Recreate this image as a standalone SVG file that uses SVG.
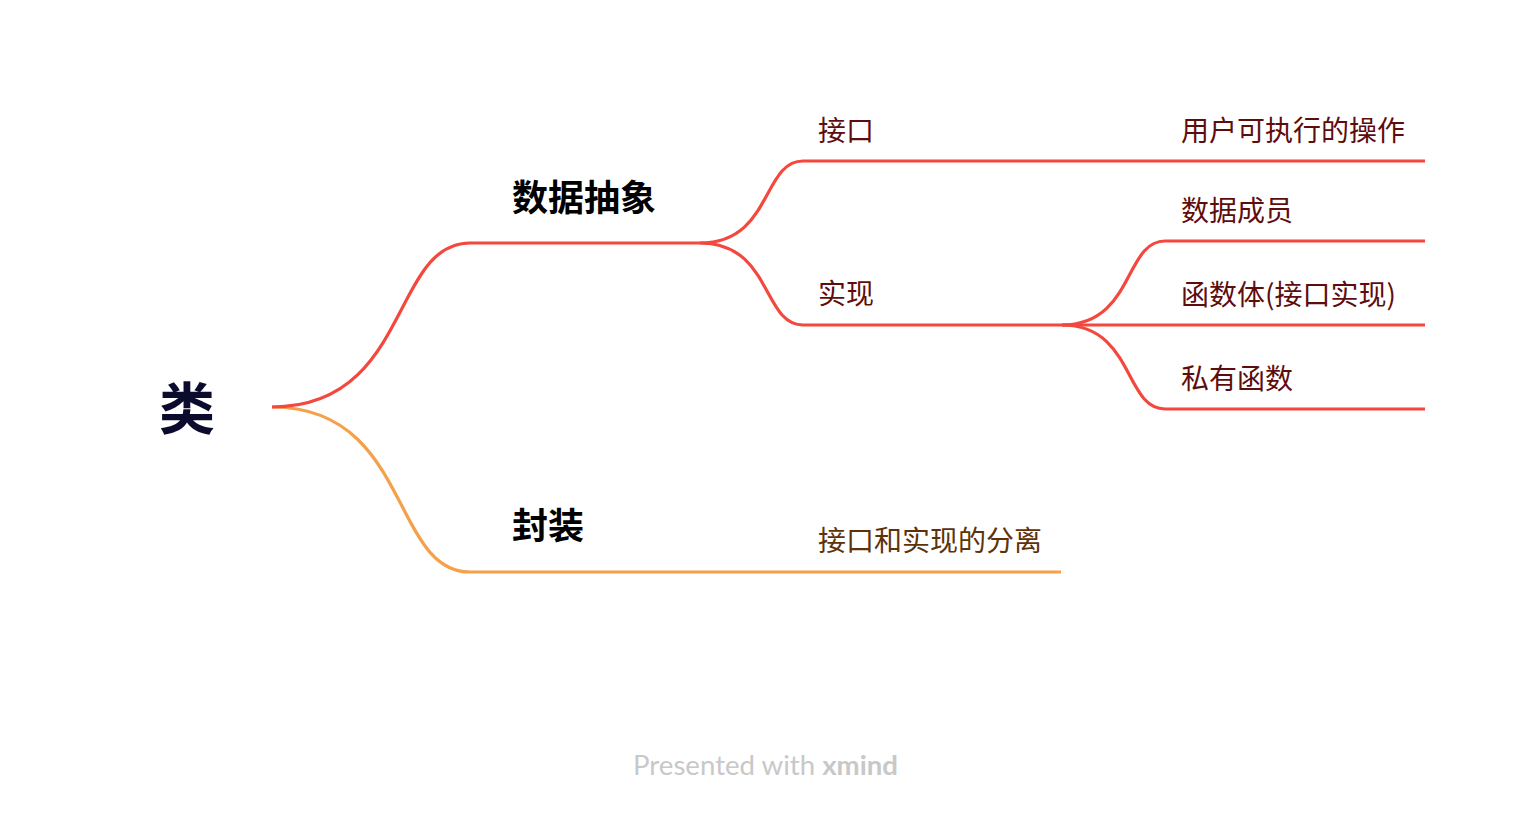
<svg xmlns="http://www.w3.org/2000/svg" width="1526" height="814" viewBox="0 0 1526 814">
<style>
.ln{fill:none;stroke-width:3.2;stroke-linecap:butt}
.r{stroke:#F4473D}
.o{stroke:#F5A04B}
.cjk{font-family:"Noto Sans CJK SC","Noto Sans CJK JP",sans-serif}
.root{font-size:56px;font-weight:700;fill:#0B0B2E}
.main{font-size:36px;font-weight:700;fill:#000000}
.sub{font-size:28px;fill:#5E0D0D}
.subo{font-size:28px;fill:#5E3209}
.foot{font-family:Lato,"Open Sans",sans-serif;font-size:26px;fill:#C8C8C8}
</style>
<rect width="1526" height="814" fill="#FFFFFF"/>
<g id="connectors">
<path class="ln o" d="M272,407 C410.6,407 390.8,572 470,572"/>
<path class="ln r" d="M272,407 C410.6,407 390.8,243 470,243"/>
<path class="ln r" d="M700,243 C772,243 762,161 803,161"/>
<path class="ln r" d="M700,243 C772,243 762,325 803,325"/>
<path class="ln r" d="M1062,161 H1165"/>
<path class="ln r" d="M1062,325 C1134,325 1124,241 1165,241"/>
<path class="ln r" d="M1062,325 H1165"/>
<path class="ln r" d="M1062,325 C1134,325 1124,409 1165,409"/>
<path class="ln o" d="M698,572 H802"/>
</g>
<g id="node-root">
<text class="cjk root" x="159" y="429">类</text>
</g>
<g id="node-data-abstraction">
<text class="cjk main" x="512" y="211">数据抽象</text>
<path class="ln r" d="M470,243 H700"/>
</g>
<g id="node-encapsulation">
<text class="cjk main" x="512" y="539">封装</text>
<path class="ln o" d="M470,572 H698"/>
</g>
<g id="node-interface">
<text class="cjk sub" x="818" y="141">接口</text>
<path class="ln r" d="M803,161 H1062"/>
</g>
<g id="node-implementation">
<text class="cjk sub" x="818" y="304">实现</text>
<path class="ln r" d="M803,325 H1062"/>
</g>
<g id="node-user-ops">
<text class="cjk sub" x="1181" y="141">用户可执行的操作</text>
<path class="ln r" d="M1165,161 H1425"/>
</g>
<g id="node-data-members">
<text class="cjk sub" x="1181" y="221">数据成员</text>
<path class="ln r" d="M1165,241 H1425"/>
</g>
<g id="node-function-body">
<text class="cjk sub" x="1181" y="305">函数体(接口实现)</text>
<path class="ln r" d="M1165,325 H1425"/>
</g>
<g id="node-private-functions">
<text class="cjk sub" x="1181" y="389">私有函数</text>
<path class="ln r" d="M1165,409 H1425"/>
</g>
<g id="node-separation">
<text class="cjk subo" x="818" y="551">接口和实现的分离</text>
<path class="ln o" d="M802,572 H1061"/>
</g>
<g id="footer">
<text class="foot" x="633" y="775" textLength="265" lengthAdjust="spacingAndGlyphs">Presented with <tspan font-weight="700">xmind</tspan></text>
</g>
</svg>
